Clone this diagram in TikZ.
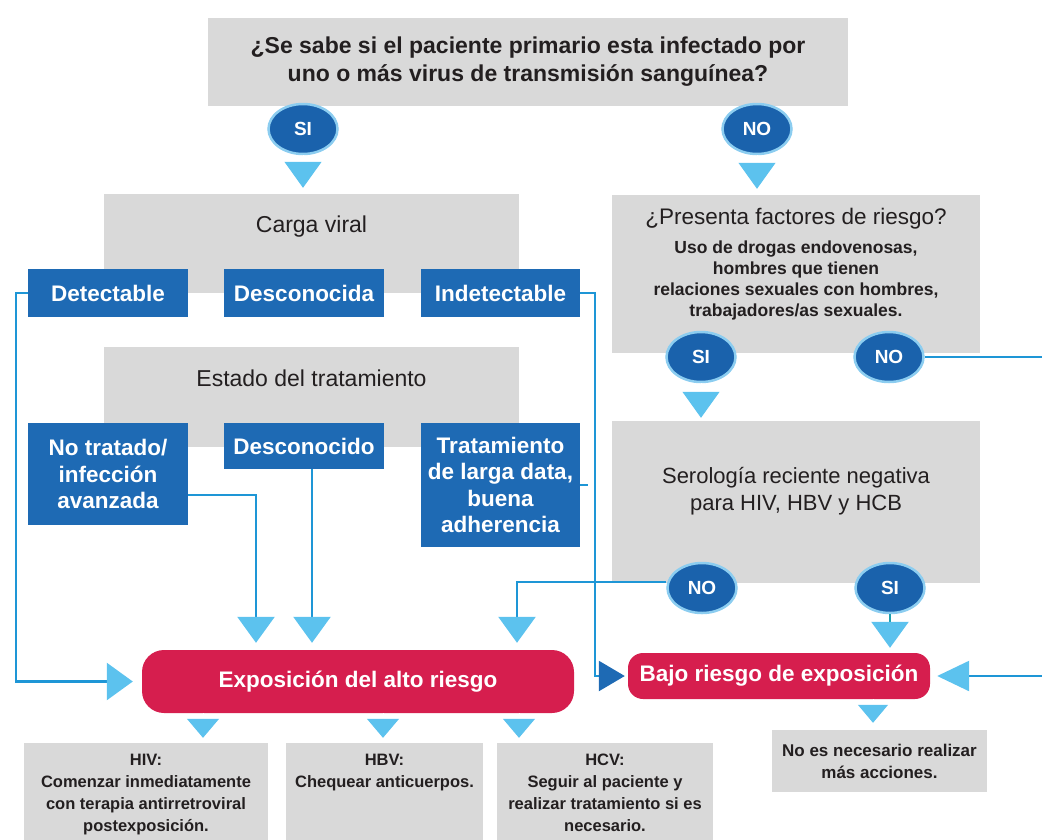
\documentclass[tikz,border=0pt]{standalone}
\usepackage{fontspec}
\setmainfont{Liberation Sans}
\usetikzlibrary{arrows.meta,shapes.geometric}
\definecolor{greyfill}{RGB}{217,217,217}
\definecolor{boxblue}{RGB}{30,106,180}
\definecolor{dotblue}{RGB}{26,98,172}
\definecolor{halo}{RGB}{140,205,240}
\definecolor{tipblue}{RGB}{92,194,238}
\definecolor{wireblue}{RGB}{30,150,214}
\definecolor{wireteal}{RGB}{28,160,176}
\definecolor{alert}{RGB}{214,30,78}
\definecolor{ink}{RGB}{35,31,32}
\tikzstyle{panel}=[fill=greyfill, inner sep=0pt]
\tikzstyle{head}=[text=ink, inner sep=0pt, align=center, font=\fontsize{23}{27}\selectfont]
\tikzstyle{note}=[text=ink, inner sep=0pt, align=center, font=\fontsize{16.5}{22}\selectfont\bfseries]
\tikzstyle{chip}=[fill=boxblue, text=white, inner sep=0pt, align=center, font=\fontsize{22.5}{26.5}\selectfont\bfseries]
\tikzstyle{bubble}=[ellipse, fill=dotblue, draw=halo, line width=2.5pt, minimum width=69pt, minimum height=50pt, inner sep=0pt, text=white, font=\fontsize{19}{19}\selectfont\bfseries]
\tikzstyle{alarm}=[fill=alert, text=white, inner sep=0pt, font=\fontsize{22.5}{26}\selectfont\bfseries]
\tikzstyle{wire}=[draw=wireblue, line width=2.5pt, -{Triangle[width=37pt,length=26pt,color=tipblue]}, shorten >=7pt]
\tikzstyle{pointer}=[draw=white, line width=1pt, -{Triangle[width=37pt,length=26pt,color=tipblue]}, shorten >=6pt]
\newcommand{\panel}{\node[panel]}
\newcommand{\chip}{\node[chip]}
\newcommand{\bubble}{\node[bubble]}

\begin{document}
\begin{tikzpicture}[x=1pt, y=-1pt]
\useasboundingbox (0,0) rectangle (1042,839);
% grey question panels
\panel[minimum width=640pt, minimum height=88pt, text=ink, align=center,
    font=\fontsize{23}{28}\selectfont\bfseries] (known) at (528,62)
    {¿Se sabe si el paciente primario esta infectado por\\uno o más virus de transmisión sanguínea?};
\panel[minimum width=415pt, minimum height=99pt] (load) at (311.5,243.5) {};
\node[head] (loadtxt) at (311.5,227) {Carga viral};
\panel[minimum width=415pt, minimum height=100pt] (state) at (311.5,397) {};
\node[head] (statetxt) at (311.5,378) {Estado del tratamiento};
\panel[minimum width=368pt, minimum height=158pt] (risk) at (796,274) {};
\node[head, font=\fontsize{22.5}{27}\selectfont] (risktxt) at (796,219) {¿Presenta factores de riesgo?};
\node[head, font=\fontsize{17.5}{21}\selectfont\bfseries] (risklist) at (796,280)
    {Uso de drogas endovenosas,\\hombres que tienen\\relaciones sexuales con hombres,\\trabajadores/as sexuales.};
\panel[minimum width=368pt, minimum height=162pt] (sero) at (796,502) {};
\node[head, font=\fontsize{22}{27}\selectfont] (serotxt) at (796,491.5)
    {Serología reciente negativa\\para HIV, HBV y HCB};

% blue answers
\chip[minimum width=160pt, minimum height=48pt] (detect) at (108,293) {Detectable};
\chip[minimum width=160pt, minimum height=48pt] (unknownload) at (304,293) {Desconocida};
\chip[minimum width=159pt, minimum height=48pt] (undetect) at (500.5,293) {Indetectable};
\chip[minimum width=160pt, minimum height=102pt] (untreated) at (108,474) {No tratado/\\infección\\avanzada};
\chip[minimum width=160pt, minimum height=46pt] (unknownstate) at (304,446) {Desconocido};
\chip[minimum width=159pt, minimum height=124pt] (longterm) at (500.5,485)
    {Tratamiento\\de larga data,\\buena\\adherencia};

% yes / no
\bubble (yes1) at (303,129) {SI};
\bubble (no1) at (757,129) {NO};
\bubble (yes2) at (701,357) {SI};
\bubble (no2) at (889,357) {NO};
\bubble (no3) at (702,588) {NO};
\bubble (yes3) at (890,588) {SI};

% outcomes
\node[alarm, rounded corners=22pt, minimum width=432pt, minimum height=63pt] (high) at (358,681.5)
    {Exposición del alto riesgo};
\node[alarm, rounded corners=15pt, minimum width=302pt, minimum height=46pt] (low) at (779,676)
    {Bajo riesgo de exposición};
\panel[minimum width=244pt, minimum height=104pt] (hiv) at (146,795) {};
\node[note, anchor=north] (hivtxt) at (146,754)
    {HIV:\\Comenzar inmediatamente\\con terapia antirretroviral\\postexposición.};
\panel[minimum width=197pt, minimum height=104pt] (hbv) at (384.5,795) {};
\node[note, anchor=north] (hbvtxt) at (384.5,754) {HBV:\\Chequear anticuerpos.};
\panel[minimum width=216pt, minimum height=104pt] (hcv) at (605,795) {};
\node[note, anchor=north] (hcvtxt) at (605,754)
    {HCV:\\Seguir al paciente y\\realizar tratamiento si es\\necesario.};
\panel[minimum width=215pt, minimum height=62pt, text=ink, align=center,
    font=\fontsize{17}{22}\selectfont\bfseries] (nomore) at (879.5,761)
    {No es necesario realizar\\más acciones.};

% rails
\coordinate (railL) at (16,0);
\coordinate (railR) at (595,0);
\coordinate (railE) at (1048,0);
\coordinate (inA) at (256,0);
\coordinate (inB) at (312,0);
\coordinate (inC) at (517,0);
\coordinate (outA) at (203,0);
\coordinate (outB) at (383,0);
\coordinate (outC) at (519,0);
\coordinate (outD) at (873,0);

\draw[pointer] (yes1) -- (yes1 |- load.north);
\draw[pointer] (no1) -- (no1 |- risk.north);
\draw[pointer, shorten >=3pt] (yes2) -- (yes2 |- sero.north);
\draw[wire, shorten >=9pt] (detect.west) -- (detect.west -| railL) |- (high.west);
\draw[wire] ([yshift=-21pt]untreated.east) -| (high.north -| inA);
\draw[wire] (unknownstate.south -| inB) -- (high.north -| inB);
\draw[wire, -{Triangle[width=30pt,length=26pt,color=boxblue]}, shorten >=3pt]
    (undetect.east) -- (undetect.east -| railR) |- (low.west);
\draw[wire, -] (longterm.east) -- (longterm.east -| railR);
\draw[wire] ([yshift=6pt]no3.west) -| (high.north -| inC);
\draw[wire, draw=wireteal, shorten >=5pt] (yes3) -- (yes3 |- low.north);
\draw[wire, -{Triangle[width=30pt,length=32pt,color=tipblue]}]
    (no2) -- (no2 -| railE) |- (low.east);
\draw[pointer, -{Triangle[width=32pt,length=19pt,color=tipblue]}, shorten >=5pt]
    (high.south -| outA) -- (hiv.north -| outA);
\draw[pointer, -{Triangle[width=32pt,length=19pt,color=tipblue]}, shorten >=5pt]
    (high.south -| outB) -- (hbv.north -| outB);
\draw[pointer, -{Triangle[width=32pt,length=19pt,color=tipblue]}, shorten >=5pt]
    (high.south -| outC) -- (hcv.north -| outC);
\draw[pointer, -{Triangle[width=30pt,length=18pt,color=tipblue]}, shorten >=7pt]
    (low.south -| outD) -- (nomore.north -| outD);
\end{tikzpicture}
\end{document}
